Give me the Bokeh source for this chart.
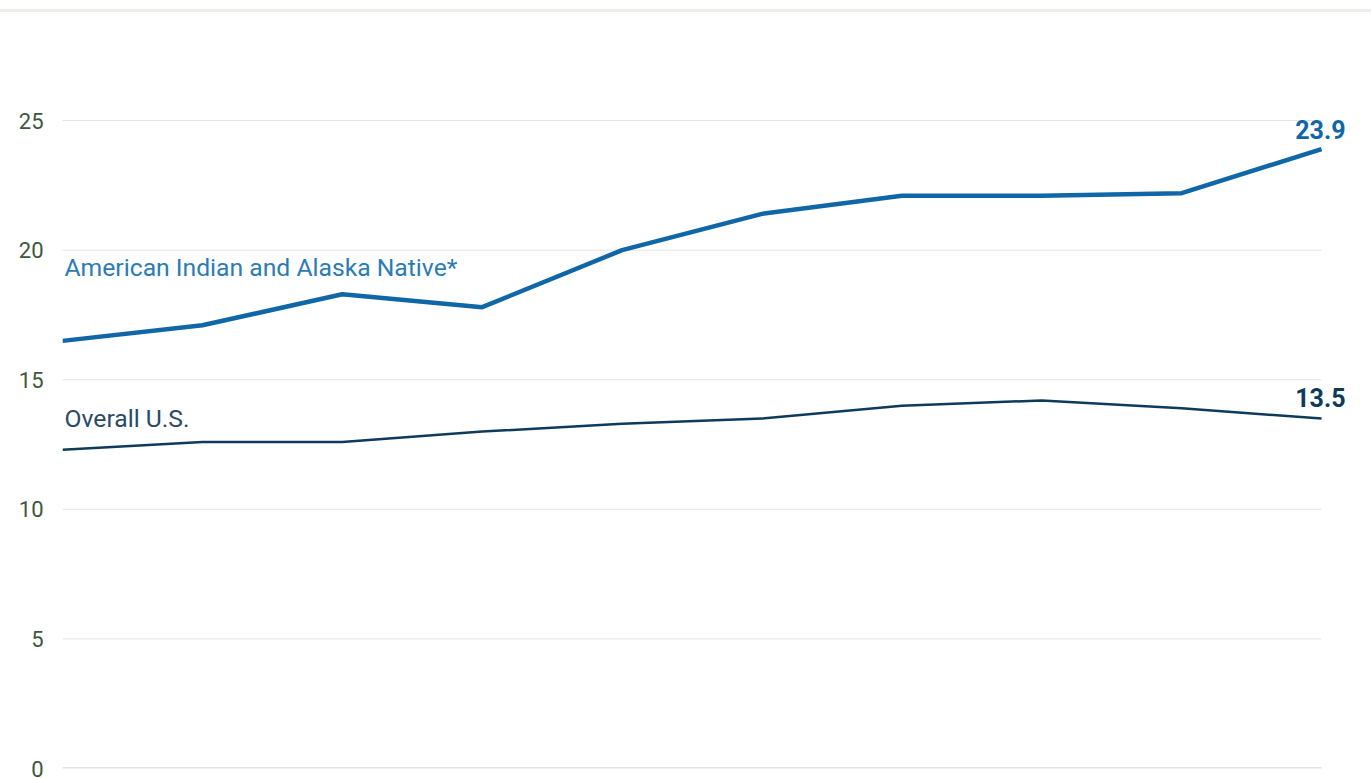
from bokeh.plotting import figure
from bokeh.models import Range1d, Label, FixedTicker, Div
from bokeh.layouts import column
from bokeh.embed import file_html
from bokeh.resources import INLINE

# ---- data ----
x_index = [0, 1, 2, 3, 4, 5, 6, 7, 8, 9]
aian = [16.5, 17.1, 18.3, 17.8, 20.0, 21.4, 22.1, 22.1, 22.2, 23.9]
overall = [12.3, 12.6, 12.6, 13.0, 13.3, 13.5, 14.0, 14.2, 13.9, 13.5]
y_ticks = [0, 5, 10, 15, 20, 25]
aian_name = "American Indian and Alaska Native*"
overall_name = "Overall U.S."

AIAN_COLOR = "#0f67a8"
AIAN_LABEL_COLOR = "#2b7bb8"
OVR_COLOR = "#0e3a5c"
OVR_LABEL_COLOR = "#2a4a66"
TICK_COLOR = "#3d573d"
GRID_COLOR = "#e4e4e4"
FONT = "Roboto"

# frame spans 62..1371 px; the last point sits at ~1322 px
p = figure(width=1371, height=766, output_backend="svg", toolbar_location=None,
           x_range=Range1d(0, 9.357), y_range=Range1d(0, 29.17),
           min_border_left=62, min_border_right=0, min_border_top=0,
           min_border_bottom=10, margin=0)
p.outline_line_color = None
p.background_fill_color = "white"
p.border_fill_color = "white"

p.xaxis.visible = False
p.xgrid.grid_line_color = None
p.ygrid.grid_line_color = None

yax = p.yaxis[0]
yax.ticker = FixedTicker(ticks=y_ticks)
yax.axis_line_color = None
yax.major_tick_line_color = None
yax.minor_tick_line_color = None
yax.major_label_text_font = FONT
yax.major_label_text_font_size = "22px"
yax.major_label_text_line_height = 0.85
yax.major_label_text_color = TICK_COLOR
yax.major_label_standoff = 13

# horizontal grid lines spanning the data extent only
grid_y = y_ticks[1:]
p.segment(x0=[x_index[0]] * len(grid_y), x1=[x_index[-1]] * len(grid_y),
          y0=grid_y, y1=grid_y, line_color=GRID_COLOR, line_width=1)
p.segment(x0=[x_index[0]], x1=[x_index[-1]], y0=[y_ticks[0]], y1=[y_ticks[0]],
          line_color="#e2e2e2", line_width=3)

p.line(x_index, aian, line_color=AIAN_COLOR, line_width=4.5)
p.line(x_index, overall, line_color=OVR_COLOR, line_width=2.5)

p.add_layout(Label(x=x_index[0], y=aian[0], text=aian_name, x_offset=2, y_offset=73,
                   text_font=FONT, text_font_size="24.7px", text_color=AIAN_LABEL_COLOR,
                   text_baseline="alphabetic"))
p.add_layout(Label(x=x_index[0], y=overall[0], text=overall_name, x_offset=2, y_offset=31,
                   text_font=FONT, text_font_size="24.7px", text_color=OVR_LABEL_COLOR,
                   text_baseline="alphabetic"))

p.add_layout(Label(x=x_index[-1], y=aian[-1], text=f"{aian[-1]:.1f}", x_offset=24, y_offset=20,
                   text_align="right", text_font=FONT, text_font_size="25px",
                   text_font_style="bold", text_color=AIAN_COLOR, text_baseline="alphabetic"))
p.add_layout(Label(x=x_index[-1], y=overall[-1], text=f"{overall[-1]:.1f}", x_offset=24, y_offset=21,
                   text_align="right", text_font=FONT, text_font_size="25px",
                   text_font_style="bold", text_color=OVR_COLOR, text_baseline="alphabetic"))

top_rule = Div(width=1371, height=12, margin=0,
               text='<div style="padding-top:8px"><div style="height:3px;width:1371px;background:#f1eee9"></div></div>')

layout = column(top_rule, p, spacing=0, margin=0)
open("out.html", "w").write(file_html(layout, INLINE))
